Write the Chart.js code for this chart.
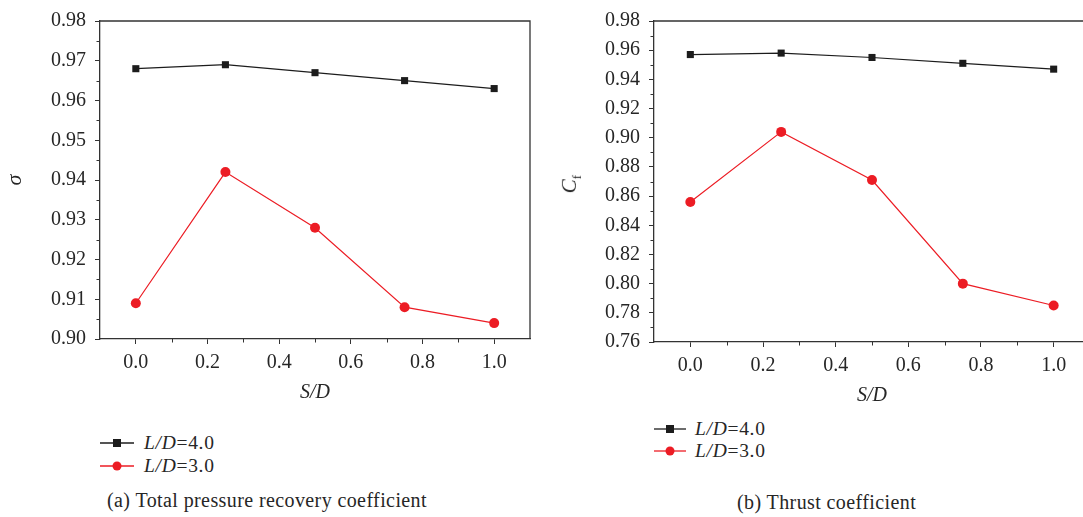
<!DOCTYPE html>
<html><head><meta charset="utf-8">
<script src="https://cdn.jsdelivr.net/npm/chart.js@4/dist/chart.umd.min.js"></script>
<style>
html,body{margin:0;padding:0;background:#fff;width:1083px;height:517px;overflow:hidden;position:relative;}
.wrap{position:absolute;top:0;}
.txt{font-family:'Liberation Serif','Times New Roman',serif;color:#262626;}
.leg{position:absolute;font-size:19.5px;letter-spacing:0.7px;}
.leg .row{display:flex;align-items:center;white-space:nowrap;}
.leg svg{display:block;}
.cap{position:absolute;font-size:20px;letter-spacing:0.4px;line-height:22px;white-space:nowrap;}
.ytitle{position:absolute;font-size:21px;transform:rotate(-90deg);transform-origin:center center;white-space:nowrap;line-height:24px;}
</style>
</head>
<body>
<div class="wrap" style="left:0;width:540px;height:410px;"><canvas id="c1" width="540" height="410"></canvas></div>
<div class="wrap" style="left:540px;width:560px;height:413px;"><canvas id="c2" width="560" height="413"></canvas></div>

<div class="ytitle txt" id="cfTitle" style="left:555px;top:168px;width:36px;text-align:center;"><i>C</i><sub style="font-size:13px;">f</sub></div>

<div class="leg txt" id="leg1" style="left:100px;top:431px;"></div>
<div class="leg txt" id="leg2" style="left:654px;top:418px;"></div>

<div class="cap txt" style="left:107px;top:489px;">(a) Total pressure recovery coefficient</div>
<div class="cap txt" style="left:737px;top:491px;">(b) Thrust coefficient</div>

<script>
// ---- data ----
const xValues = [0.0, 0.25, 0.5, 0.75, 1.0];
const sigmaLD4 = [0.968, 0.969, 0.967, 0.965, 0.963];
const sigmaLD3 = [0.909, 0.942, 0.928, 0.908, 0.904];
const cfLD4 = [0.957, 0.958, 0.955, 0.951, 0.947];
const cfLD3 = [0.856, 0.904, 0.871, 0.800, 0.785];
const seriesNames = ['L/D=4.0', 'L/D=3.0'];
const xTicks = [0.0, 0.2, 0.4, 0.6, 0.8, 1.0];
const yTicksA = [0.90, 0.91, 0.92, 0.93, 0.94, 0.95, 0.96, 0.97, 0.98];
const yTicksB = [0.76, 0.78, 0.80, 0.82, 0.84, 0.86, 0.88, 0.90, 0.92, 0.94, 0.96, 0.98];
const xMinor = [0.1, 0.3, 0.5, 0.7, 0.9];
const yMinorA = [0.905, 0.915, 0.925, 0.935, 0.945, 0.955, 0.965, 0.975];
const yMinorB = [0.77, 0.79, 0.81, 0.83, 0.85, 0.87, 0.89, 0.91, 0.93, 0.95, 0.97];

const BLACK = '#1c1c1c';
const RED = '#ec1c24';
const AXIS = '#333333';
const TEXT = '#262626';
const FONT = "'Liberation Serif','Times New Roman',serif";

const framePlugin = {
  id: 'frame',
  afterDraw(chart, args, opts) {
    const {ctx, chartArea: a, scales: {x, y}} = chart;
    ctx.save();
    ctx.strokeStyle = AXIS;
    ctx.lineWidth = 1.3;
    ctx.beginPath();
    ctx.moveTo(a.left, a.top);
    ctx.lineTo(a.right, a.top);
    ctx.lineTo(a.right, a.bottom);
    ctx.stroke();
    ctx.lineWidth = 1;
    ctx.beginPath();
    for (const v of opts.xMinor) {
      const px = Math.round(x.getPixelForValue(v)) + 0.5;
      ctx.moveTo(px, a.bottom); ctx.lineTo(px, a.bottom + 3.5);
    }
    for (const v of opts.yMinor) {
      const py = Math.round(y.getPixelForValue(v)) + 0.5;
      ctx.moveTo(a.left, py); ctx.lineTo(a.left - 3.5, py);
    }
    ctx.stroke();
    ctx.restore();
  }
};

function pts(ys) { return xValues.map((x, i) => ({x, y: ys[i]})); }

function makeChart(id, d4, d3, yTicks, yMin, yMax, yMinor, yWidth, xHeight, yTitle, padRight) {
  const yDigits = 2;
  return new Chart(document.getElementById(id), {
    type: 'scatter',
    data: {
      datasets: [
        {label: seriesNames[0], data: pts(d4), showLine: true, borderColor: BLACK, backgroundColor: BLACK,
         borderWidth: 1.2, pointStyle: 'rect', pointRadius: 5, pointHoverRadius: 5, pointBorderWidth: 0, clip: false},
        {label: seriesNames[1], data: pts(d3), showLine: true, borderColor: RED, backgroundColor: RED,
         borderWidth: 1.2, pointStyle: 'circle', pointRadius: 5, pointHoverRadius: 5, pointBorderWidth: 0, clip: false}
      ]
    },
    options: {
      responsive: false,
      animation: false,
      events: [],
      layout: {padding: {top: 21, right: padRight, left: 0, bottom: 0}},
      plugins: {
        legend: {display: false},
        tooltip: {enabled: false},
        frame: {xMinor: xMinor, yMinor: yMinor}
      },
      scales: {
        x: {
          type: 'linear', min: -0.1, max: 1.1,
          afterBuildTicks: s => { s.ticks = xTicks.map(v => ({value: v})); },
          afterFit: s => { s.height = xHeight; },
          ticks: {autoSkip: false, maxRotation: 0, padding: 7, color: TEXT,
                  font: {family: FONT, size: 20}, callback: v => Number(v).toFixed(1)},
          grid: {drawOnChartArea: false, drawTicks: true, tickLength: 5, color: AXIS, lineWidth: 1},
          border: {color: AXIS, width: 1.3},
          title: {display: true, text: 'S/D', color: TEXT, font: {family: FONT, size: 20, style: 'italic'},
                  padding: {top: 0, bottom: 5}}
        },
        y: {
          type: 'linear', min: yMin, max: yMax,
          afterBuildTicks: s => { s.ticks = yTicks.map(v => ({value: v})); },
          afterFit: s => { s.width = yWidth; },
          ticks: {autoSkip: false, padding: 9, color: TEXT,
                  font: {family: FONT, size: 20}, callback: v => Number(v).toFixed(yDigits)},
          grid: {drawOnChartArea: false, drawTicks: true, tickLength: 5, color: AXIS, lineWidth: 1},
          border: {color: AXIS, width: 1.3},
          title: {display: !!yTitle, text: yTitle || '', color: TEXT,
                  font: {family: FONT, size: 22, style: 'italic'}, padding: {top: 2, bottom: 0}}
        }
      }
    },
    plugins: [framePlugin]
  });
}

makeChart('c1', sigmaLD4, sigmaLD3, yTicksA, 0.90, 0.98, yMinorA, 100, 71, 'σ', 10);
makeChart('c2', cfLD4, cfLD3, yTicksB, 0.76, 0.98, yMinorB, 114, 71, null, 10);

// ---- legends ----
function legendHTML(lineW, gap, rowH) {
  const colors = [BLACK, RED];
  return seriesNames.map((name, i) => {
    const parts = name.split('=');
    const mid = lineW / 2;
    const marker = i === 0
      ? `<rect x="${mid - 4}" y="2" width="8" height="8" fill="${colors[i]}"/>`
      : `<circle cx="${mid}" cy="6" r="4.5" fill="${colors[i]}"/>`;
    return `<div class="row" style="height:${rowH}px"><svg width="${lineW}" height="12"><line x1="0" y1="6" x2="${lineW}" y2="6" stroke="${colors[i]}" stroke-width="1.3"/>${marker}</svg>` +
           `<span style="margin-left:${gap}px"><i>${parts[0]}</i>=${parts[1]}</span></div>`;
  }).join('');
}
document.getElementById('leg1').innerHTML = legendHTML(34, 10, 23);
document.getElementById('leg2').innerHTML = legendHTML(32, 9, 22);
</script>
</body></html>
